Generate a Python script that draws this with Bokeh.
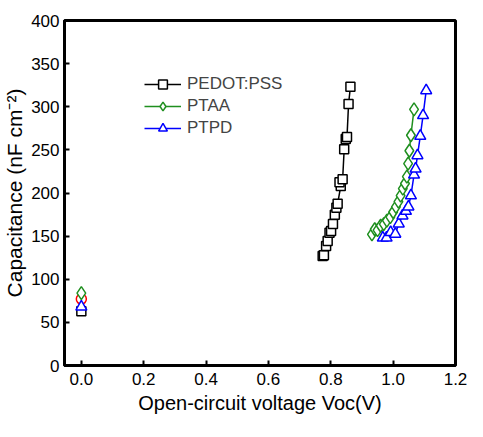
from bokeh.plotting import figure
from bokeh.models import Range1d, FixedTicker, Legend, LegendItem
from bokeh.embed import file_html
from bokeh.resources import INLINE

# ---- data ----
pedot_v = [0.774, 0.778, 0.785, 0.790, 0.796, 0.801, 0.807, 0.813, 0.818, 0.822,
           0.832, 0.828, 0.838, 0.843, 0.848, 0.852, 0.857, 0.863]
pedot_c = [127.0, 127.8, 138.5, 144.4, 154.0, 156.0, 164.0, 174.7, 183.0, 187.6,
           208.0, 212.4, 216.0, 250.8, 262.6, 264.8, 303.2, 323.2]

ptaa_v = [0.932, 0.941, 0.950, 0.960, 0.970, 0.980, 0.991, 1.000, 1.009, 1.017,
          1.024, 1.031, 1.038, 1.044, 1.048, 1.052, 1.057, 1.067]
ptaa_c = [152, 158, 157, 162, 164, 168, 172, 178, 184, 190,
          197, 205, 211, 219, 234, 249, 267, 297]

ptpd_v = [0.967, 0.979, 0.992, 1.007, 1.018, 1.030, 1.041, 1.049, 1.057, 1.067,
          1.072, 1.078, 1.087, 1.096, 1.106]
ptpd_c = [148, 148, 154.4, 152.5, 164.4, 173.6, 179, 184, 197, 221,
          228, 243.4, 266, 290, 318.8]

# zero-bias capacitance points
zero_v = [0.0]
zero_pedot = [63]
zero_ptaa = [84]
zero_ptpd = [68]
zero_other = [77]

x_ticks = [0.0, 0.2, 0.4, 0.6, 0.8, 1.0, 1.2]
y_ticks = [0, 50, 100, 150, 200, 250, 300, 350, 400]

BLACK = "#000000"
GREEN = "#1f8f1f"
BLUE = "#0000ff"
RED = "#ff0000"
FONT = "Liberation Sans"

X0, X1 = -0.054, 1.2
Y0, Y1 = 0, 400

W, H = 467, 421
B_LEFT, B_RIGHT, B_TOP, B_BOTTOM = 59, 12, 20, 56
p = figure(width=W, height=H, output_backend="svg", toolbar_location=None,
           x_range=Range1d(X0, X1), y_range=Range1d(Y0, Y1),
           min_border_left=B_LEFT, min_border_right=B_RIGHT,
           min_border_top=B_TOP, min_border_bottom=B_BOTTOM)
p.background_fill_color = "white"
p.border_fill_color = "white"
p.grid.visible = False
p.outline_line_color = "black"
p.outline_line_width = 3

for ax in (p.xaxis[0], p.yaxis[0]):
    ax.axis_line_width = 3
    ax.axis_line_color = "black"
    ax.major_tick_in = 5
    ax.major_tick_out = 0
    ax.major_tick_line_width = 2
    ax.minor_tick_line_color = None
    ax.major_label_text_font = FONT
    ax.major_label_text_font_size = "17px"
    ax.major_label_text_color = "black"
    ax.axis_label_text_font = FONT
    ax.axis_label_text_font_style = "normal"
    ax.axis_label_text_color = "black"

p.xaxis.ticker = FixedTicker(ticks=x_ticks)
p.yaxis.ticker = FixedTicker(ticks=y_ticks)
p.xaxis.major_label_overrides = {t: f"{t:.1f}" for t in x_ticks}
p.xaxis.major_label_standoff = 7
p.yaxis.major_label_standoff = 5

p.yaxis.axis_label = "Capacitance (nF cm\u207b\u00b2)"
p.yaxis.axis_label_text_font_size = "21px"
p.yaxis.axis_label_standoff = 2

p.xaxis.axis_label = "Open-circuit voltage Voc(V)"
p.xaxis.axis_label_text_font_size = "20px"
p.xaxis.axis_label_standoff = 4

# zero-bias points
p.scatter(zero_v, zero_other, marker="circle", size=10, line_color=RED, fill_color="white", line_width=1.5)
p.scatter(zero_v, zero_pedot, marker="square", size=9, line_color=BLACK, fill_color="white", line_width=1.5)
p.scatter(zero_v, zero_ptpd, marker="triangle", size=11, line_color=BLUE, fill_color="white", line_width=1.5)
p.scatter(zero_v, zero_ptaa, marker="diamond", size=13, line_color=GREEN, fill_color="white", line_width=1.5)

# series
l1 = p.line(pedot_v, pedot_c, line_color=BLACK, line_width=1.5)
s1 = p.scatter(pedot_v, pedot_c, marker="square", size=9, line_color=BLACK, fill_color="white", line_width=1.5)
l2 = p.line(ptaa_v, ptaa_c, line_color=GREEN, line_width=1.5)
s2 = p.scatter(ptaa_v, ptaa_c, marker="diamond", size=13, line_color=GREEN, fill_color="white", line_width=1.5)
l3 = p.line(ptpd_v, ptpd_c, line_color=BLUE, line_width=1.5)
s3 = p.scatter(ptpd_v, ptpd_c, marker="triangle", size=11, line_color=BLUE, fill_color="white", line_width=1.5)

legend = Legend(items=[
    LegendItem(label="PEDOT:PSS", renderers=[l1, s1]),
    LegendItem(label="PTAA", renderers=[l2, s2]),
    LegendItem(label="PTPD", renderers=[l3, s3]),
], location=(80, 226), padding=0, margin=0, spacing=0,
    glyph_width=37, glyph_height=22, label_height=22, label_standoff=6,
    label_text_font=FONT, label_text_font_size="17px",
    border_line_color=None, background_fill_alpha=0)
p.add_layout(legend)

open("out.html", "w").write(file_html(p, INLINE))
